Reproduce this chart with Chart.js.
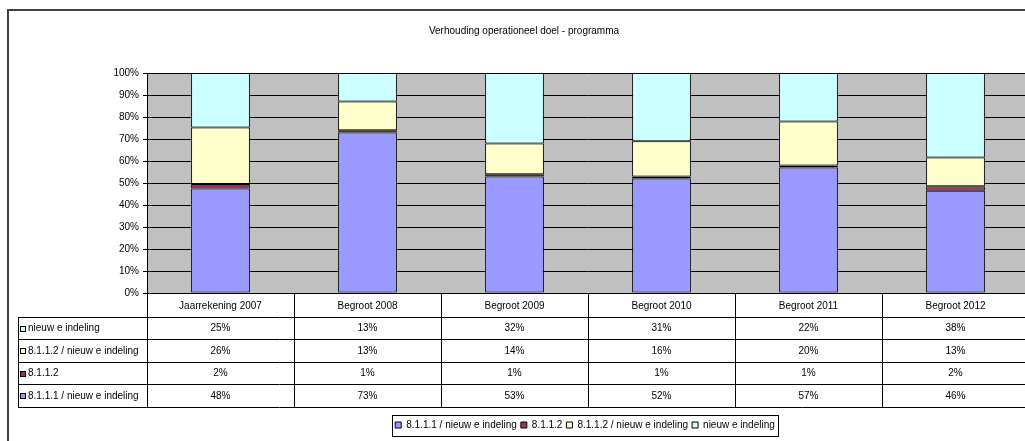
<!DOCTYPE html>
<html>
<head>
<meta charset="utf-8">
<script src="https://cdn.jsdelivr.net/npm/chart.js@4.4.1/dist/chart.umd.min.js"></script>
<style>
html,body{margin:0;padding:0;background:#fff;overflow:hidden;width:1025px;height:441px;}
canvas{display:block;}
</style>
</head>
<body>
<canvas id="c" width="1063" height="450" style="width:1063px;height:450px"></canvas>
<script>
const chartTitle = 'Verhouding operationeel doel - programma';
const categories = ['Jaarrekening 2007','Begroot 2008','Begroot 2009','Begroot 2010','Begroot 2011','Begroot 2012'];
const seriesNames = ['8.1.1.1 / nieuw e indeling','8.1.1.2','8.1.1.2 / nieuw e indeling','nieuw e indeling'];
const values8111 = [48,73,53,52,57,46];
const values8112 = [2,1,1,1,1,2];
const values8112n = [26,13,14,16,20,13];
const valuesNieuw = [25,13,32,31,22,38];
const yTickLabels = ['0%','10%','20%','30%','40%','50%','60%','70%','80%','90%','100%'];
const colors = ['#9999FF','#993366','#FFFFCC','#CCFFFF'];

const rawSeries = [values8111, values8112, values8112n, valuesNieuw];
const totals = categories.map((c,i)=>rawSeries.reduce((s,a)=>s+a[i],0));
const FONT = '"Liberation Sans", Arial, sans-serif';

const datasets = rawSeries.map((arr,k)=>({
  label: seriesNames[k],
  data: arr.map((v,i)=>v/totals[i]*100),
  backgroundColor: colors[k],
  borderColor: '#000',
  borderWidth: 1,
  borderSkipped: false,
  categoryPercentage: 1,
  barPercentage: 0.4
}));

const decorPlugin = {
  id: 'decor',
  beforeDraw(chart){
    const {ctx, chartArea:a} = chart;
    ctx.save();
    ctx.fillStyle = '#fff';
    ctx.fillRect(0,0,chart.width,chart.height);
    ctx.fillStyle = '#C0C0C0';
    ctx.fillRect(a.left, a.top, a.right-a.left, a.bottom-a.top);
    ctx.restore();
  },
  afterDraw(chart){
    const {ctx, chartArea:a, scales:{x}} = chart;
    ctx.save();
    // outer border
    ctx.strokeStyle = '#404040';
    ctx.lineWidth = 2;
    ctx.beginPath();
    ctx.moveTo(8, chart.height+5); ctx.lineTo(8, 10); ctx.lineTo(chart.width+5, 10);
    ctx.stroke();
    // title
    ctx.fillStyle = '#000';
    ctx.font = '10px ' + FONT;
    ctx.textAlign = 'center';
    ctx.textBaseline = 'middle';
    ctx.fillText(chartTitle, 524, 31);

    // data table
    const step = x.getPixelForValue(1) - x.getPixelForValue(0);
    const top = Math.round(a.bottom);
    const headerBottom = top + 24;
    const rowH = 22.4;
    const nRows = rawSeries.length;
    const tableBottom = headerBottom + rowH*nRows;
    const labelLeft = 18;
    ctx.strokeStyle = '#000';
    ctx.lineWidth = 1;
    ctx.beginPath();
    for (let r=0;r<=nRows;r++){
      const y = Math.round(headerBottom + r*rowH) + 0.5;
      ctx.moveTo(labelLeft, y); ctx.lineTo(chart.width+5, y);
    }
    for (let i=0;i<=categories.length;i++){
      const xx = Math.round(x.getPixelForValue(i) - step/2) + 0.5;
      ctx.moveTo(xx, top); ctx.lineTo(xx, Math.round(tableBottom)+1);
    }
    ctx.moveTo(labelLeft+0.5, headerBottom); ctx.lineTo(labelLeft+0.5, Math.round(tableBottom)+1);
    ctx.stroke();

    ctx.fillStyle = '#000';
    ctx.textAlign = 'center';
    categories.forEach((c,i)=>{
      ctx.fillText(c, x.getPixelForValue(i), (top+headerBottom)/2 + 1);
    });
    for (let r=0;r<nRows;r++){
      const k = nRows-1-r;
      const yc = headerBottom + r*rowH + rowH/2 + 0.5;
      ctx.fillStyle = colors[k];
      ctx.fillRect(20, Math.round(yc)-3, 6, 6);
      ctx.strokeStyle = '#000';
      ctx.strokeRect(20.5, Math.round(yc)-2.5, 5, 5);
      ctx.fillStyle = '#000';
      ctx.textAlign = 'left';
      ctx.fillText(seriesNames[k], 28, yc);
      ctx.textAlign = 'center';
      rawSeries[k].forEach((v,i)=>{
        ctx.fillText(v + '%', x.getPixelForValue(i), yc);
      });
    }

    // legend frame
    const lg = chart.legend;
    if (lg && lg.legendHitBoxes && lg.legendHitBoxes.length){
      const hb = lg.legendHitBoxes;
      const l = Math.min(...hb.map(h=>h.left)) - 3;
      const rgt = Math.max(...hb.map(h=>h.left+h.width)) + 3;
      const t = hb[0].top;
      ctx.strokeStyle = '#000';
      ctx.lineWidth = 1;
      ctx.strokeRect(Math.round(l)+0.5, Math.round(t)-4.5, Math.round(rgt-l), 21);
    }
    ctx.restore();
  }
};

new Chart(document.getElementById('c'), {
  type: 'bar',
  data: { labels: categories, datasets },
  options: {
    responsive: false,
    animation: false,
    layout: { padding: { left: 107, top: 73, right: 0, bottom: 10 } },
    plugins: {
      title: { display: false },
      tooltip: { enabled: false },
      legend: {
        display: true,
        position: 'bottom',
        labels: {
          boxWidth: 6, boxHeight: 6, padding: 4,
          color: '#000',
          font: { family: FONT, size: 10 }
        }
      }
    },
    scales: {
      x: {
        stacked: true,
        ticks: { display: false },
        grid: { display: false },
        border: { display: true, color: '#000', width: 1 },
        afterFit(s){ s.height = 123; }
      },
      y: {
        stacked: true,
        min: 0, max: 100,
        ticks: {
          stepSize: 10,
          padding: 4,
          color: '#000',
          font: { family: FONT, size: 10 },
          callback: (v, i) => yTickLabels[i]
        },
        grid: { color: '#000', lineWidth: 1, tickLength: 4, drawTicks: true },
        border: { display: true, color: '#000', width: 1 },
        afterFit(s){ s.width = 40; }
      },
      yRight: {
        position: 'right',
        display: true,
        ticks: { display: false },
        grid: { display: false, drawTicks: false },
        border: { display: false },
        afterFit(s){ s.width = 34; }
      }
    }
  },
  plugins: [decorPlugin]
});
</script>
</body>
</html>
